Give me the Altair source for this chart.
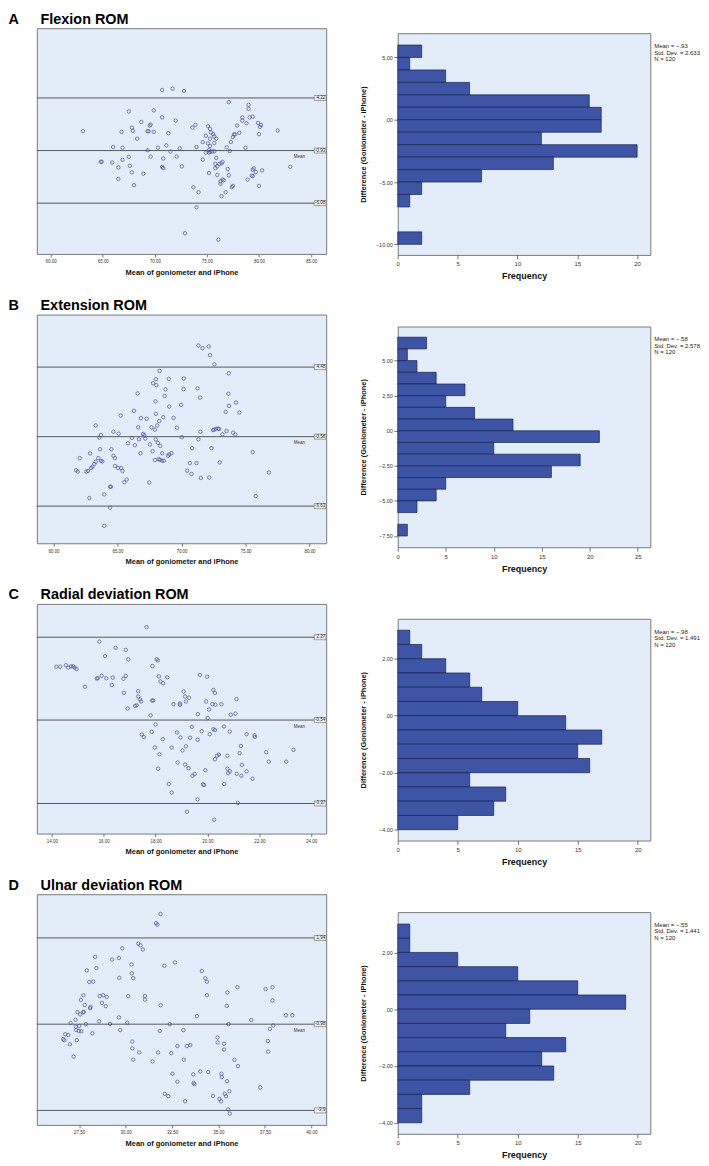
import altair as alt
import pandas as pd

FONT = "Liberation Sans"
BG = "#e3edf9"
FRAME = "#7a7a7a"
PT = "#4a4e96"
BAR = "#3e55a6"
BAR_EDGE = "#1b2150"
LINE = "#585858"
BOX_SHAPE = "M-1,-0.42L1,-0.42L1,0.42L-1,0.42Z"
LABEL_EXPR = "datum.value == 0 ? '.00' : format(datum.value, '.2f')"

# ---------------- Panel A: Flexion ROM ----------------
A_mean = [63.1,64.8,64.9,65.9,66.0,66.5,66.5,66.8,66.9,66.9,
          67.5,67.5,67.6,67.8,67.9,67.8,68.0,68.3,68.7,68.9,
          69.3,69.4,69.3,69.5,69.6,69.6,69.9,69.9,70.3,70.7,
          70.7,70.7,70.8,70.8,71.1,71.3,71.5,71.7,72.0,72.1,
          72.4,72.6,72.8,72.9,73.6,73.9,73.7,74.0,74.0,74.2,
          74.6,74.6,74.9,75.1,75.1,75.2,75.2,75.3,75.3,75.3,
          75.3,75.4,75.5,75.2,75.6,75.7,75.7,75.7,75.9,75.8,
          75.9,75.8,76.0,76.0,76.2,76.3,76.3,76.4,76.5,76.5,
          76.4,76.1,76.6,76.8,76.9,77.0,77.1,77.2,77.1,77.3,
          77.4,77.5,77.5,77.6,77.7,77.9,78.1,78.4,78.4,78.7,
          78.8,78.9,79.0,79.0,79.1,79.4,79.4,79.4,79.5,79.7,
          79.9,80.0,80.0,80.2,80.1,80.3,81.8,83.0,79.3,74.9]
A_diff = [0.97,-2.03,-2.03,-2.1,-0.58,-2.58,-3.71,0.9,-0.65,-1.84,
          2.9,-1.55,-2.42,1.32,1.0,-3.06,-4.32,0.23,1.87,-3.19,
          0.97,0.97,-0.9,1.52,1.61,-1.52,3.0,0.9,-0.65,5.0,
          2.32,-2.52,-1.71,-2.65,-0.42,0.77,-1.03,5.13,2.0,-1.52,
          -0.71,-2.48,4.9,-9.03,1.32,1.58,-4.52,-0.58,-6.48,-5.0,
          -0.1,-1.81,0.52,1.45,-0.23,-0.87,-1.13,1.19,0.23,-0.48,
          -1.03,0.84,-1.03,-3.13,0.68,0.45,-1.0,-0.19,0.23,-2.23,
          -1.65,-2.65,-2.48,-3.32,-2.23,-3.94,-4.19,-2.19,-2.03,-3.77,
          -5.39,-9.65,-3.84,-5.0,-0.61,-2.74,-3.35,-0.97,3.81,-0.1,
          -4.52,-4.39,0.39,0.65,0.65,1.52,0.81,2.32,2.0,-0.65,
          1.74,-3.77,3.55,3.16,2.32,2.39,-2.81,-3.45,-2.68,-3.03,
          1.77,-4.39,0.68,1.58,1.39,-2.87,1.03,-2.52,-3.39,-1.13]
A_lines = [4.22, -0.93, -6.08]
A_line_labels = ["4.22", "-0.93", "-6.08"]
A_hist_lo = [5, 4, 3, 2, 1, 0, -1, -2, -3, -4, -5, -6, -7, -10]
A_hist_hi = [6, 5, 4, 3, 2, 1, 0, -1, -2, -3, -4, -5, -6, -9]
A_hist_n = [2, 1, 4, 6, 16, 17, 17, 12, 20, 13, 7, 2, 1, 2]
A_note = "Mean = \u2212.93\nStd. Dev. = 2.633\nN = 120"

# ---------------- Panel B: Extension ROM ----------------
B_mean = [61.77,61.9,62.05,62.57,62.7,62.86,62.8,62.94,63.04,63.19,
          63.3,63.3,63.5,63.58,63.71,63.64,63.71,63.82,63.97,63.97,
          64.42,64.49,64.42,64.52,64.68,64.68,64.8,64.8,65.04,65.09,
          65.25,65.3,65.4,65.53,65.71,65.82,66.13,66.29,66.36,66.57,
          66.62,66.68,66.8,66.83,67.0,67.09,67.17,67.27,67.48,67.53,
          67.66,67.74,67.77,67.92,67.97,68.0,68.03,68.0,68.0,67.92,
          68.1,68.16,68.21,68.26,68.29,68.34,68.49,68.49,68.57,68.62,
          68.68,68.75,68.94,69.01,69.04,69.04,69.22,69.38,69.64,69.97,
          70.03,70.16,70.18,70.44,70.65,70.78,70.83,71.17,71.25,71.32,
          71.32,71.45,71.48,71.51,71.64,72.13,72.16,72.23,72.34,72.47,
          72.55,72.57,72.7,72.86,72.94,72.99,73.2,73.45,73.51,73.69,
          73.66,73.71,74.03,74.21,74.26,74.52,75.56,75.79,76.83,68.31]
B_diff = [-3.02,-3.12,-2.14,-3.12,-3.07,-1.8,-5.04,-2.86,-2.76,-2.57,
          -2.4,0.24,-2.14,-0.65,-0.46,-1.49,-2.35,-2.38,-4.78,-7.06,
          -4.22,-4.22,-5.74,-1.49,-0.22,-1.97,-2.14,-2.71,-2.86,-0.36,
          0.96,-2.86,-3.07,-3.89,-3.7,-1.06,-0.67,1.3,-1.2,2.57,
          0.1,-0.77,-1.78,0.77,-0.38,-0.48,-0.72,0.72,-3.91,-1.15,
          0.1,-1.63,3.31,-0.07,1.99,3.6,3.17,1.08,-0.79,-2.28,
          0.24,-1.03,-2.21,0.55,4.2,-1.25,-1.78,-2.33,0.84,-2.33,
          2.38,2.86,-1.97,3.62,1.61,-1.87,-1.78,0.79,0.07,1.73,
          -0.62,2.88,3.65,-3.05,-2.5,-3.29,-1.42,-2.5,2.93,-0.77,
          6.05,2.26,-0.22,-3.58,5.86,5.98,-3.55,5.35,-1.42,-0.1,
          -0.07,4.68,0.0,0.0,-0.02,-2.45,-0.41,1.22,-0.17,4.03,
          2.54,1.66,-0.29,-0.43,1.9,1.18,-1.7,-4.9,-3.19,-2.26]
B_lines = [4.48, -0.58, -5.63]
B_line_labels = ["4.48", "-0.58", "-5.63"]
B_hist_lo = [5.833, 5.0, 4.167, 3.333, 2.5, 1.667, 0.833, 0.0, -0.833, -1.667, -2.5, -3.333, -4.167, -5.0, -5.833, -7.5]
B_hist_hi = [6.667, 5.833, 5.0, 4.167, 3.333, 2.5, 1.667, 0.833, 0.0, -0.833, -1.667, -2.5, -3.333, -4.167, -5.0, -6.667]
B_hist_n = [3, 1, 2, 4, 7, 5, 8, 12, 21, 10, 19, 16, 5, 4, 2, 1]
B_note = "Mean = \u2212.58\nStd. Dev. = 2.578\nN = 120"

# ---------------- Panel C: Radial deviation ROM ----------------
C_mean = [14.17,14.32,14.54,14.63,14.74,14.82,14.88,14.95,15.28,15.73,
          15.77,15.83,15.92,16.05,16.1,16.31,16.35,16.46,16.76,16.78,
          16.85,16.85,16.95,16.92,17.21,17.27,17.33,17.33,17.4,17.44,
          17.47,17.55,17.65,17.81,17.85,17.87,17.91,17.88,18.0,17.97,
          18.04,18.09,18.1,18.13,18.15,18.19,18.29,18.28,18.45,18.51,
          18.62,18.62,18.69,18.83,18.85,18.94,18.94,18.96,19.04,19.08,
          19.14,19.14,19.17,19.17,19.21,19.27,19.29,19.33,19.4,19.42,
          19.51,19.62,19.62,19.63,19.71,19.78,19.83,19.87,19.92,19.95,
          19.99,20.01,20.06,20.09,20.19,20.23,20.23,20.26,20.29,20.29,
          20.31,20.29,20.37,20.44,20.54,20.64,20.65,20.77,20.77,20.8,
          20.86,20.87,20.9,21.08,21.12,21.13,21.17,21.24,21.29,21.31,
          21.33,21.51,21.51,21.74,21.82,21.83,22.27,22.37,23.04,23.32]
C_diff = [1.27,1.27,1.32,1.24,1.28,1.28,1.24,1.19,0.59,0.87,
          0.88,2.12,0.96,1.63,0.88,0.65,0.9,1.91,0.86,0.38,
          1.84,0.96,1.52,-0.15,-0.06,-0.04,0.44,0.26,0.16,0.09,
          -1.03,-1.12,2.61,-0.38,-0.94,0.12,0.12,1.29,-0.69,-1.47,
          1.52,1.48,-2.19,0.94,-1.7,0.77,0.71,-1.19,0.91,-2.71,
          -1.47,-3.0,0.0,-0.96,-1.98,0.02,-0.02,-1.13,-1.57,0.43,
          0.26,-2.05,0.09,-1.43,-3.65,-2.17,0.22,-1.14,-0.77,-2.43,
          -2.37,-1.21,-3.23,-0.34,0.99,-0.92,-2.72,-2.74,-2.24,0.09,
          0.93,-0.47,-0.18,-1.02,0.0,0.48,-0.85,-3.92,0.38,-0.88,
          -0.02,-1.87,-1.75,-1.71,0.0,-0.76,-2.71,-1.75,-2.19,-2.34,
          -0.93,-2.28,-0.36,-0.32,0.17,-2.36,-3.35,-1.66,-1.42,-2.43,
          -2.06,-1.02,-2.28,-2.53,-1.06,-1.11,-1.63,-1.95,-1.95,-1.55]
C_lines = [2.27, -0.54, -3.37]
C_line_labels = ["2.27", "-0.54", "-3.37"]
C_hist_lo = [2.5, 2.0, 1.5, 1.0, 0.5, 0.0, -0.5, -1.0, -1.5, -2.0, -2.5, -3.0, -3.5, -4.0]
C_hist_hi = [3.0, 2.5, 2.0, 1.5, 1.0, 0.5, 0.0, -0.5, -1.0, -1.5, -2.0, -2.5, -3.0, -3.5]
C_hist_n = [1, 2, 4, 6, 7, 10, 14, 17, 15, 16, 6, 9, 8, 5]
C_note = "Mean = \u2212.98\nStd. Dev. = 1.491\nN = 120"

# ---------------- Panel D: Ulnar deviation ROM ----------------
D_mean = [26.64,26.75,26.7,26.91,27.0,27.04,27.2,27.3,27.32,27.34,
          27.37,27.41,27.5,27.48,27.55,27.59,27.61,27.71,27.73,27.75,
          27.8,27.86,27.91,28.04,28.09,28.11,28.21,28.25,28.36,28.43,
          28.57,28.61,28.73,28.79,28.93,28.98,29.16,29.27,29.64,29.64,
          29.66,29.71,29.82,30.09,30.14,30.32,30.34,30.36,30.36,30.41,
          30.41,30.68,30.73,30.8,30.93,31.04,31.04,31.45,31.64,31.71,
          31.88,31.75,31.84,31.89,32.09,32.11,32.3,32.38,32.46,32.52,
          32.66,32.79,32.79,33.11,33.13,33.2,33.3,33.48,33.64,33.66,
          33.71,33.84,34.02,34.11,34.29,34.38,34.38,34.45,34.71,34.95,
          34.96,35.05,35.14,35.16,35.18,35.3,35.3,35.34,35.41,35.45,
          35.46,35.48,35.54,35.52,35.61,35.59,35.86,36.02,36.05,36.77,
          37.25,37.54,37.66,37.68,37.77,37.91,37.91,37.95,38.63,38.98]
D_diff = [-1.49,-1.32,-1.52,-1.35,-1.66,-0.94,-2.08,-0.83,-1.07,-1.18,
          -1.52,-0.57,-1.04,-1.21,-0.65,-0.16,-1.22,-0.58,0.0,-0.56,
          -0.33,-0.98,0.84,0.45,-0.44,-0.4,-1.29,0.46,1.3,0.92,
          -0.88,-0.03,-0.26,0.0,-0.37,-0.06,-0.97,1.21,1.26,-0.75,
          0.59,-1.18,1.59,-0.93,-0.03,1.04,0.74,-1.57,-1.8,0.58,
          -2.18,1.75,-1.94,1.69,1.55,-0.03,-0.15,-2.24,2.44,2.39,
          2.75,-1.94,-1.21,-0.34,1.0,-3.34,-3.42,-0.98,-1.96,-2.66,
          1.11,-1.72,-2.93,-1.18,-2.18,-3.59,-1.72,-1.69,-2.68,-2.97,
          -3.01,-0.71,-2.58,0.82,0.57,0.46,0.0,-2.6,-3.41,-1.43,
          -1.6,-3.51,-3.59,-2.66,-2.77,-1.64,-1.84,-3.34,-3.42,-0.36,
          -2.91,0.09,-0.98,-3.87,-4.01,-3.25,-2.19,0.27,-2.4,-0.84,
          -3.12,0.21,-1.55,-1.91,-1.14,0.27,-0.18,-1.02,-0.68,-0.68]
D_lines = [1.94, -0.98, -3.9]
D_line_labels = ["1.94", "-0.98", "-3.9"]
D_hist_lo = [2.5, 2.0, 1.5, 1.0, 0.5, 0.0, -0.5, -1.0, -1.5, -2.0, -2.5, -3.0, -3.5, -4.0]
D_hist_hi = [3.0, 2.5, 2.0, 1.5, 1.0, 0.5, 0.0, -0.5, -1.0, -1.5, -2.0, -2.5, -3.0, -3.5]
D_hist_n = [1, 1, 5, 10, 15, 19, 11, 9, 14, 12, 13, 6, 2, 2]
D_note = "Mean = \u2212.55\nStd. Dev. = 1.441\nN = 120"

SW = 291  # scatter plot width
GAP = "\u2003\u2002"  # spacing between panel letter and panel title


def scatter(mx, dy, lines, labels, xdom, ydom, xt, yt, letter, title, H):
    W = SW
    xsc = alt.Scale(domain=xdom, nice=False, zero=False)
    ysc = alt.Scale(domain=ydom, nice=False, zero=False)
    df = pd.DataFrame({"m": mx, "d": dy})
    ldf = pd.DataFrame({"v": lines, "lab": labels})
    mdf = pd.DataFrame({"v": [lines[1]], "t": ["Mean"]})
    rule = alt.Chart(ldf).mark_rule(color=LINE, strokeWidth=1).encode(
        y=alt.Y("v:Q", scale=ysc, axis=None))
    pts = alt.Chart(df).mark_point(shape="circle", filled=False, size=12, strokeWidth=0.7,
                                   color=PT, opacity=1).encode(
        x=alt.X("m:Q", scale=xsc, axis=alt.Axis(
            values=xt, labelExpr=LABEL_EXPR, title="Mean of goniometer and iPhone",
            labelFontSize=4.5, tickSize=3, labelPadding=2, labelFlush=False,
            minExtent=10, maxExtent=10, titleFontSize=7.5, titleFontWeight="bold",
            titlePadding=4.5)),
        y=alt.Y("d:Q", scale=ysc, axis=alt.Axis(
            values=yt, labelExpr=LABEL_EXPR, title="Difference (Goniometer - iPhone)",
            labelFontSize=4.5, tickSize=3, labelPadding=1.5, labelFlush=False,
            minExtent=18, maxExtent=18, titleFontSize=7, titleFontWeight="bold",
            titlePadding=2.5)))
    box = alt.Chart(ldf).mark_point(shape=BOX_SHAPE, size=144, filled=True, fill="#eeeeee",
                                    stroke="#6a6a6a", strokeWidth=0.6, opacity=1).encode(
        x=alt.value(W - 6), y=alt.Y("v:Q", scale=ysc, axis=None))
    txt = alt.Chart(ldf).mark_text(fontSize=4.5, align="right", baseline="middle",
                                   color="#333333", font=FONT).encode(
        x=alt.value(W - 1), y=alt.Y("v:Q", scale=ysc, axis=None), text="lab:N")
    mtxt = alt.Chart(mdf).mark_text(fontSize=4.5, dy=6.5, align="center", baseline="middle",
                                    color="#333333", font=FONT).encode(
        x=alt.value(W - 27), y=alt.Y("v:Q", scale=ysc, axis=None), text="t:N")
    return alt.layer(rule, pts, box, txt, mtxt).properties(
        width=W, height=H,
        title=alt.TitleParams(letter + GAP + title, anchor="start", offset=1, fontSize=14.5,
                              fontWeight="bold", font=FONT, dx=-28, color="black"))


HW = 254  # histogram plot width


def hist(lo, hi, cnt, xdom, ydom, xt, yt, note, H):
    W = HW
    df = pd.DataFrame({"lo": lo, "hi": hi, "n": cnt, "z": [0] * len(cnt)})
    bars = alt.Chart(df).mark_rect(color=BAR, stroke=BAR_EDGE, strokeWidth=0.7).encode(
        x=alt.X("z:Q", scale=alt.Scale(domain=xdom, nice=False, zero=False), axis=alt.Axis(
            values=xt, format="d", title="Frequency", labelFontSize=6, tickSize=4,
            labelPadding=2, labelFlush=False, minExtent=12, maxExtent=12,
            titleFontSize=9, titleFontWeight="bold", titlePadding=5)),
        x2="n:Q",
        y=alt.Y("lo:Q", scale=alt.Scale(domain=ydom, nice=False, zero=False), axis=alt.Axis(
            values=yt, labelExpr=LABEL_EXPR, title="Difference (Goniometer - iPhone)",
            labelFontSize=5.5, tickSize=4, labelPadding=1.5, labelFlush=False,
            minExtent=26, maxExtent=26, titleFontSize=7.5, titleFontWeight="bold",
            titlePadding=4)),
        y2="hi:Q")
    ndf = pd.DataFrame({"t": [note]})
    ann = alt.Chart(ndf).mark_text(lineBreak="\n", align="left", baseline="top", fontSize=6,
                                   lineHeight=6.5, font=FONT, color="#222222").encode(
        x=alt.value(W + 4), y=alt.value(10), text="t:N")
    return alt.layer(bars, ann).properties(width=W, height=H)


sA = scatter(A_mean, A_diff, A_lines, A_line_labels, [58.67, 86.45], [-11.05, 11.05],
             [60, 65, 70, 75, 80, 85], [-10, -5, 0, 5, 10], "A", "Flexion ROM", 227)
sB = scatter(B_mean, B_diff, B_lines, B_line_labels, [58.7, 81.3], [-8.33, 8.3],
             [60, 65, 70, 75, 80], [-6, -3, 0, 3, 6], "B", "Extension ROM", 230)
sC = scatter(C_mean, C_diff, C_lines, C_line_labels, [13.42, 24.58], [-4.39, 3.40],
             [14, 16, 18, 20, 22, 24], [-4, -2, 0, 2], "C", "Radial deviation ROM", 231)
sD = scatter(D_mean, D_diff, D_lines, D_line_labels, [25.22, 40.8], [-4.39, 3.42],
             [27.5, 30, 32.5, 35, 37.5, 40], [-4, -2, 0, 2], "D", "Ulnar deviation ROM", 232)

hA = hist(A_hist_lo, A_hist_hi, A_hist_n, [0, 21.1], [-10.85, 6.95], [0, 5, 10, 15, 20],
          [-10, -5, 0, 5], A_note, 223)
hB = hist(B_hist_lo, B_hist_hi, B_hist_n, [0, 26.3], [-8.3, 7.43], [0, 5, 10, 15, 20, 25],
          [-7.5, -5, -2.5, 0, 2.5, 5], B_note, 222)
hC = hist(C_hist_lo, C_hist_hi, C_hist_n, [0, 21.05], [-4.38, 3.40], [0, 5, 10, 15, 20],
          [-4, -2, 0, 2], C_note, 223)
hD = hist(D_hist_lo, D_hist_hi, D_hist_n, [0, 21.05], [-4.39, 3.42], [0, 5, 10, 15, 20],
          [-4, -2, 0, 2], D_note, 223)

spacer = alt.Chart(pd.DataFrame({"s": [0]})).mark_point(opacity=0, size=0).encode(
    x=alt.X("s:Q", axis=None, scale=alt.Scale(domain=[0, 1])),
    y=alt.Y("s:Q", axis=None, scale=alt.Scale(domain=[0, 1]))
).properties(width=1, height=3,
             view=alt.ViewBackground(stroke="transparent", fill="transparent"))

left = alt.vconcat(sA, sB, sC, sD, spacing=21)
right = alt.vconcat(spacer, alt.vconcat(hA, hB, hC, hD, spacing=44), spacing=0)

chart = alt.hconcat(left, right, spacing=31).properties(
    padding={"left": 0, "top": 0, "right": 0, "bottom": 0},
    background="white"
).configure_view(
    fill=BG, stroke=FRAME, strokeWidth=1
).configure_axis(
    domain=False, grid=False, labelFont=FONT, titleFont=FONT, tickColor="#555555",
    tickWidth=0.8, labelColor="#333333", titleColor="#111111"
)

chart.save("out.html", embed_options={"renderer": "svg", "actions": False})
